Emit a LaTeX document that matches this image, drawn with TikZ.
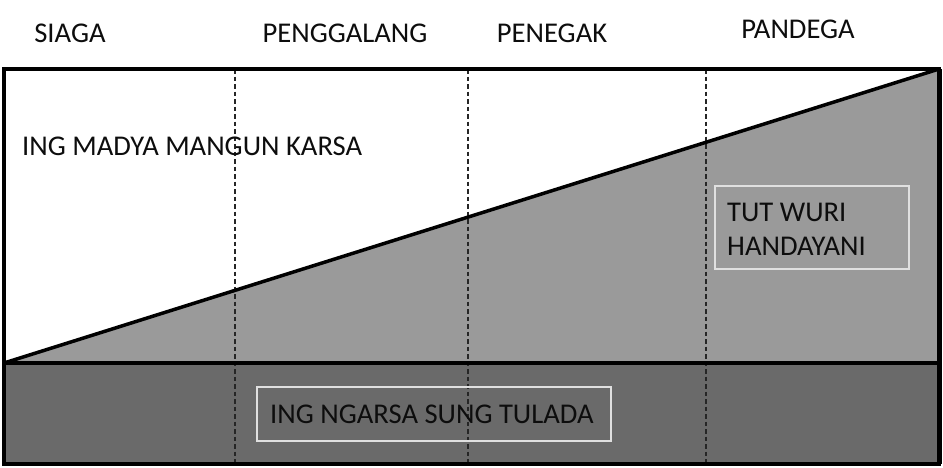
\documentclass[tikz,border=0pt]{standalone}
\usepackage{fontspec}
\setmainfont{Carlito}
\begin{document}
\begin{tikzpicture}[x=1pt,y=-1pt,
  lbl/.style={font=\fontsize{28.6}{34}\selectfont, text=black!95, inner sep=0pt},
  frame/.style={draw=black, line width=3.5pt},
  divider/.style={draw=black!85, line width=1.2pt, dash pattern=on 4.5pt off 3pt},
  tagbox/.style={draw=white!88!black, line width=1.6pt}]
\useasboundingbox (0,0) rectangle (943,467);
\definecolor{midgray}{HTML}{9A9A9A}
\definecolor{darkgray}{HTML}{6A6A6A}
% fills
\fill[midgray] (4,363) -- (939,69) -- (939,363) -- cycle;
\fill[darkgray] (4,363) rectangle (939,464);
% dashed dividers
\foreach \xx in {235,468,706} {
  \draw[divider] (\xx,69) -- (\xx,464);
}
% frame
\draw[frame] (4,69) rectangle (939,464);
\draw[black, line width=5pt] (939,69) -- (939,464);
\draw[frame] (4,363) -- (939,363);
\draw[frame] (4,363) -- (939,69);
% boxes
\draw[tagbox] (715,186) rectangle (909,269);
\draw[tagbox] (257,387) rectangle (611,441);
% labels
\node[lbl] (siaga) at (70,33) {SIAGA};
\node[lbl] (penggalang) at (345,33) {PENGGALANG};
\node[lbl] (penegak) at (552,33) {PENEGAK};
\node[lbl] (pandega) at (798,29) {PANDEGA};
\node[lbl, anchor=west] (madya) at (22,146) {ING MADYA MANGUN KARSA};
\node[lbl, anchor=west, align=left] (tutwuri) at (727,229) {TUT WURI\\HANDAYANI};
\node[lbl, anchor=west] (ngarsa) at (270,414) {ING NGARSA SUNG TULADA};
\end{tikzpicture}
\end{document}
